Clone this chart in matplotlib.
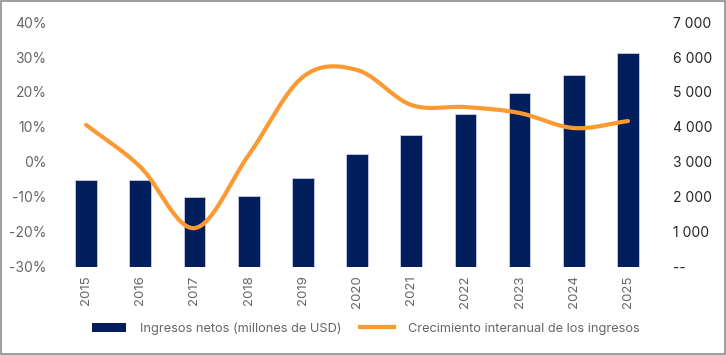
from __future__ import annotations

import matplotlib.pyplot as plt
import numpy as np
from matplotlib.lines import Line2D
from matplotlib.patches import Patch, Rectangle
from matplotlib.ticker import FuncFormatter

plt.switch_backend("Agg")
plt.rcParams["font.family"] = ["Inter", "DejaVu Sans"]

years = ["2015", "2016", "2017", "2018", "2019", "2020", "2021", "2022", "2023", "2024", "2025"]
revenue = [2490, 2490, 2000, 2030, 2540, 3230, 3770, 4370, 4970, 5490, 6110]
growth = [10.6, -1.4, -18.9, 2.0, 24.3, 26.3, 16.3, 15.7, 14.0, 9.7, 11.7]

bar_label = "Ingresos netos (millones de USD)"
line_label = "Crecimiento interanual de los ingresos"

BAR_COLOR = "#021e5c"
LINE_COLOR = "#fb9a33"


def catmull_rom(x, y, n=30):
    # smooth the drawn curve through the data points (Excel-like)
    x = np.asarray(x, float)
    y = np.asarray(y, float)
    px = np.concatenate([[2 * x[0] - x[1]], x, [2 * x[-1] - x[-2]]])
    py = np.concatenate([[2 * y[0] - y[1]], y, [2 * y[-1] - y[-2]]])
    xs, ys = [], []
    t = np.linspace(0, 1, n, endpoint=False)
    for i in range(1, len(px) - 2):
        for p, out in ((px, xs), (py, ys)):
            p0, p1, p2, p3 = p[i - 1], p[i], p[i + 1], p[i + 2]
            out.append(0.5 * (2 * p1 + (-p0 + p2) * t + (2 * p0 - 5 * p1 + 4 * p2 - p3) * t**2
                              + (-p0 + 3 * p1 - 3 * p2 + p3) * t**3))
    xs.append([x[-1]])
    ys.append([y[-1]])
    return np.concatenate(xs), np.concatenate(ys)


fig = plt.figure(figsize=(7.26, 3.55), dpi=100)
ax = fig.add_axes([0.0813, 0.248, 0.821, 0.69])
ax2 = ax.twinx()

pos = np.arange(len(years))
ax2.bar(pos, revenue, width=0.4, color=BAR_COLOR, edgecolor="#c8cde0", linewidth=0.6, zorder=2)
ax2.set_ylim(0, 7000)
ax2.set_yticks(np.arange(0, 7001, 1000))
ax2.yaxis.set_major_formatter(FuncFormatter(lambda v, _: "--" if v == 0 else f"{int(v):,}".replace(",", " ")))
ax2.tick_params(axis="y", length=0, labelsize=10, labelcolor="#262626", pad=13)

sx, sy = catmull_rom(pos, growth)
ax.plot(sx, sy, color=LINE_COLOR, linewidth=3, solid_capstyle="round", zorder=5)
ax.set_ylim(-30, 40)
ax.set_yticks(np.arange(-30, 41, 10))
ax.yaxis.set_major_formatter(FuncFormatter(lambda v, _: f"{int(v)}%"))
ax.tick_params(axis="y", length=0, labelsize=10, labelcolor="#666666", pad=9)
ax.set_xlim(-0.5, len(years) - 0.5)
ax.set_xticks(pos)
ax.set_xticklabels(years, rotation=90, fontsize=9.5, color="#666666")
ax.tick_params(axis="x", length=0, pad=6)

# line above bars
ax.set_zorder(ax2.get_zorder() + 1)
ax.patch.set_visible(False)

for a in (ax, ax2):
    for s in a.spines.values():
        s.set_visible(False)

handles = [
    Patch(facecolor=BAR_COLOR, edgecolor="none"),
    Line2D([0], [0], color=LINE_COLOR, linewidth=3),
]
fig.legend(handles, [bar_label, line_label], loc="center", bbox_to_anchor=(0.504, 0.075), ncol=2,
           frameon=False, fontsize=9.2, labelcolor="#666666", handlelength=2.7, columnspacing=1.4,
           handletextpad=1.1)

fig.add_artist(Rectangle((0.002, 0.004), 0.996, 0.992, transform=fig.transFigure, fill=False,
                         edgecolor="#8c8c8c", linewidth=1.2))

fig.savefig("out.png", dpi=100)
plt.close(fig)
